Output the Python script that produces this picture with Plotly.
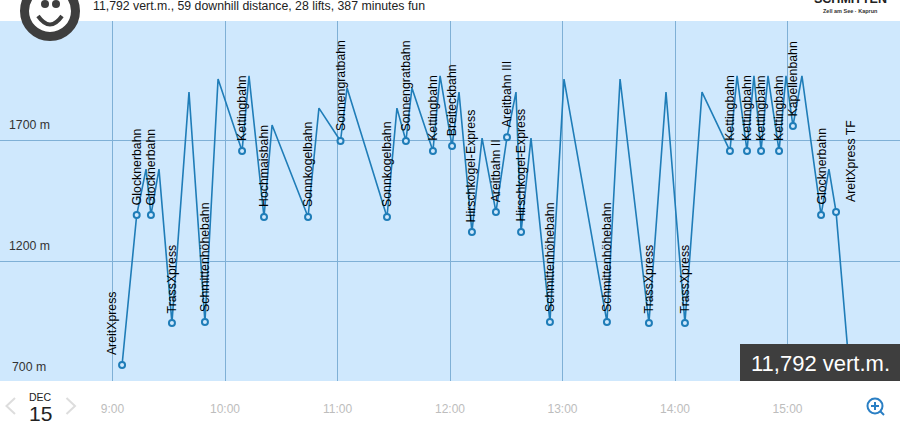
import plotly.graph_objects as go

# minutes since midnight, metres
route_minutes = [545.1,552.9,557.9,560.5,564.8,571.7,580.8,589.3,596.3,609.1,612.8,620.8,625.1,644.3,650.1,661.6,665.1,686.4,691.7,696.5,699.7,710.9,714.7,721.1,724.8,731.7,737.1,744.5,750.4,755.2,757.9,763.2,773.3,780.8,803.7,810.7,826.1,835.2,845.3,854.4,869.3,873.1,878.4,882.1,885.9,889.6,895.5,899.2,902.9,907.7,917.9,922.1,925.9,932.8]
route_elev = [772,1392,1582,1392,1582,946,1900,950,1954,1657,1967,1384,1764,1384,1834,1698,1917,1384,1834,1698,1917,1657,1967,1677,1900,1322,1710,1405,1714,1900,1322,1710,950,1954,950,1954,946,1900,946,1900,1657,1967,1657,1967,1657,1967,1657,1967,1760,1967,1392,1582,1405,772]
route_lift = ["AreitXpress","Glocknerbahn","","Glocknerbahn","","TrassXpress","","Schmittenhöhebahn","","Kettingbahn","","Hochmaisbahn","","Sonnkogelbahn","","Sonnengratbahn","","Sonnkogelbahn","","Sonnengratbahn","","Kettingbahn","","Breiteckbahn","","Hirschkogel-Express","","Areitbahn II","Areitbahn III","","Hirschkogel-Express","","Schmittenhöhebahn","","Schmittenhöhebahn","","TrassXpress","","TrassXpress","","Kettingbahn","","Kettingbahn","","Kettingbahn","","Kettingbahn","","Kapellenbahn","","Glocknerbahn","","AreitXpress TF",""]
x_tick_vals = [540,600,660,720,780,840,900]
x_tick_text = ["9:00","10:00","11:00","12:00","13:00","14:00","15:00"]
y_tick_vals = [700,1200,1700]
y_tick_text = ["700 m","1200 m","1700 m"]
header_text = "11,792 vert.m., 59 downhill distance, 28 lifts, 387 minutes fun"
badge_text = "11,792 vert.m."

PW, PH, TOP = 900, 360, 21
Y_MIN, Y_MAX = 706, 2194
LINE = "#1f7db8"
DARK = "#3e3e3e"
BG = "#cfe8fd"
FONT = "Liberation Sans, Arial"
def X(p): return p / PW
def Y(p): return 1 - (p - TOP) / PH

shapes, ann = [], []
def circle(cx, cy, r, **k):
    shapes.append(dict(type="circle", xref="paper", yref="paper", x0=X(cx-r), x1=X(cx+r),
                       y0=Y(cy+r), y1=Y(cy-r), layer="above", **k))
def path(points, color, width, close=False):
    s = ""
    for i, (a, b) in enumerate(points):
        s += ("M" if i == 0 else "L") + f"{X(a)},{Y(b)} "
    shapes.append(dict(type="path", xref="paper", yref="paper", path=s,
                       line=dict(color=color, width=width), layer="above"))
def text(px, py, t, size, color, xanchor="center", **k):
    ann.append(dict(x=X(px), y=Y(py), xref="paper", yref="paper", text=t, showarrow=False,
                    font=dict(size=size, color=color, family=FONT),
                    xanchor=xanchor, yanchor="middle", **k))

# smiley
circle(50, 11, 25.5, line=dict(color=DARK, width=9), fillcolor="white")
circle(45, 4, 4, line=dict(width=0), fillcolor=DARK)
circle(56, 4, 4, line=dict(width=0), fillcolor=DARK)
shapes.append(dict(type="path", xref="paper", yref="paper", layer="above",
                   path=f"M{X(38)},{Y(16)} Q{X(50)},{Y(33)} {X(62)},{Y(16)}",
                   line=dict(color=DARK, width=4)))

# header
text(91, 6.5, header_text, 12.3, "#222222", xanchor="left")
text(850, -1, "<b>SCHMITTEN</b>", 12.5, "#222222")
text(850, 10.5, "<b>Zell am See · Kaprun</b>", 5.5, "#333333")

# badge
shapes.append(dict(type="rect", xref="paper", yref="paper", x0=X(740), x1=X(900), y0=Y(381), y1=Y(344),
                   fillcolor=DARK, line=dict(width=0), layer="above"))
text(820, 363, badge_text, 22, "white")

# date
text(40, 397, "DEC", 10.5, "#222222")
text(40, 413.5, "15", 21, "#222222")
path([(15, 398), (6.5, 406), (15, 414)], "#dddddd", 2)
path([(66.5, 398), (75, 406), (66.5, 414)], "#dddddd", 2)

# zoom icon
circle(875, 406, 7.5, line=dict(color="#2a7fc4", width=2))
path([(871, 406), (879, 406)], "#2a7fc4", 2)
path([(875, 402), (875, 410)], "#2a7fc4", 2)
path([(880.5, 411.5), (884, 415)], "#2a7fc4", 2)

# y labels: placed on the paper so the 700 m label survives below the axis range
for v, t in zip(y_tick_vals, y_tick_text):
    ann.append(dict(x=X(29), y=(v - Y_MIN) / (Y_MAX - Y_MIN), xref="paper", yref="paper", text=t,
                    showarrow=False, yshift=15.5, xanchor="center", yanchor="middle",
                    font=dict(size=12.3, color="#333333", family=FONT)))

# lift labels
shift = {0: -10, 52: 15}
lift_i = [i for i, n in enumerate(route_lift) if n]
for i in lift_i:
    ann.append(dict(x=route_minutes[i], y=route_elev[i], xref="x", yref="y", text=route_lift[i],
                    showarrow=False, textangle=-90, xanchor="center", yanchor="bottom",
                    xshift=shift.get(i, 0), yshift=9, borderpad=0,
                    font=dict(size=12.3, color="#000000", family=FONT)))

fig = go.Figure()
fig.add_trace(go.Scatter(x=route_minutes, y=route_elev, mode="lines",
                         line=dict(color=LINE, width=1.6), hoverinfo="skip"))
fig.add_trace(go.Scatter(x=[route_minutes[i] for i in lift_i], y=[route_elev[i] for i in lift_i],
                         mode="markers", hoverinfo="skip",
                         marker=dict(size=6, color=BG, line=dict(color=LINE, width=2))))
fig.update_layout(
    width=902, height=437, autosize=False, showlegend=False,
    margin=dict(l=0, r=2, t=TOP, b=56), paper_bgcolor="white", plot_bgcolor=BG,
    shapes=shapes, annotations=ann,
    xaxis=dict(range=[480, 960], tickvals=x_tick_vals, ticktext=x_tick_text, showgrid=True,
               gridcolor="#7fb0d6", gridwidth=1, zeroline=False, ticks="outside", ticklen=17,
               tickcolor="rgba(0,0,0,0)", tickfont=dict(size=12, color="#bdbdbd", family=FONT)),
    yaxis=dict(range=[Y_MIN, Y_MAX], tickvals=y_tick_vals, showticklabels=False, showgrid=True,
               gridcolor="#7fb0d6", gridwidth=1, zeroline=False),
)
fig.write_html("out.html", config=dict(displayModeBar=False),
               post_script="document.body.style.margin='0';document.documentElement.style.overflow='hidden';")
